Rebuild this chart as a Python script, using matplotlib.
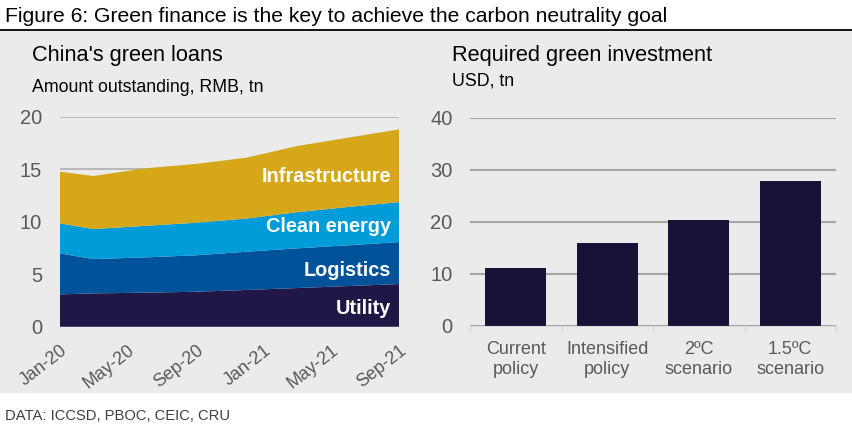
import matplotlib.pyplot as plt
import matplotlib.dates as mdates
import pandas as pd
from matplotlib.patches import Rectangle
from matplotlib.lines import Line2D

plt.rcParams['font.family'] = ['Liberation Sans', 'DejaVu Sans']

# left panel: green loans, RMB tn (stacked)
dates = ["2020-01", "2020-03", "2020-06", "2020-09", "2020-12", "2021-03", "2021-06", "2021-09"]
utility        = [3.08, 3.17, 3.24, 3.33, 3.50, 3.68, 3.87, 4.06]
logistics      = [3.90, 3.27, 3.36, 3.47, 3.64, 3.78, 3.88, 4.00]
clean_energy   = [2.86, 2.86, 3.00, 3.10, 3.16, 3.44, 3.65, 3.81]
infrastructure = [4.92, 5.05, 5.48, 5.60, 5.80, 6.30, 6.60, 6.93]
series_names = ["Utility", "Logistics", "Clean energy", "Infrastructure"]
tick_dates = ["2020-01", "2020-05", "2020-09", "2021-01", "2021-05", "2021-09"]

# right panel: required green investment, USD tn
scenarios = ["Current\npolicy", "Intensified\npolicy", "2ºC\nscenario", "1.5ºC\nscenario"]
investment = [11.1, 16.0, 20.3, 27.8]

colors = ["#201747", "#00539b", "#009bd9", "#d5a719"]
bar_color = "#1a1236"
bg = "#ebebeb"
tick_col = "#595959"

W, H = 852, 424
fig = plt.figure(figsize=(W / 100, H / 100), dpi=100)

def fx(px):
    return px / W

def fy(py):
    return 1 - py / H

fig.patches.append(Rectangle((0, fy(392)), 1, fy(31) - fy(392),
                             transform=fig.transFigure, color=bg, zorder=-5))
fig.lines.append(Line2D([0, 1], [fy(29.5), fy(29.5)], transform=fig.transFigure,
                        color="black", lw=1.3))

fig.text(fx(5), fy(17), "Figure 6: Green finance is the key to achieve the carbon neutrality goal",
         fontsize=15.2, va="center", ha="left", color="black")
fig.text(fx(32), fy(55), "China's green loans", fontsize=15.7, va="center")
fig.text(fx(32), fy(87), "Amount outstanding, RMB, tn", fontsize=12.8, va="center")
fig.text(fx(452), fy(56), "Required green investment", fontsize=15.7, va="center")
fig.text(fx(452), fy(81), "USD, tn", fontsize=12.8, va="center")
fig.text(fx(5), fy(416), "DATA: ICCSD, PBOC, CEIC, CRU", fontsize=10.6, va="center",
         color="#404040")

# ---- left: stacked area
ax1 = fig.add_axes([fx(60), fy(326.7), fx(399.3 - 60), fy(116.7) - fy(326.7)])
ax1.set_facecolor("none")
x = pd.to_datetime(dates)
ax1.stackplot(x, utility, logistics, clean_energy, infrastructure,
              colors=colors, lw=0, zorder=2)
ax1.set_xlim(x[0], x[-1])
ax1.set_ylim(0, 20)
ax1.set_yticks([0, 5, 10, 15, 20])
ax1.set_xticks(pd.to_datetime(tick_dates))
ax1.xaxis.set_major_formatter(mdates.DateFormatter("%b-%y"))
ax1.grid(axis="y", color="#b0b0b0", lw=1.2, zorder=1)
ax1.set_axisbelow(True)
for s in ax1.spines.values():
    s.set_visible(False)
ax1.tick_params(axis="y", length=0, labelsize=14.5, labelcolor=tick_col, pad=13)
ax1.tick_params(axis="x", length=0, labelsize=13, labelcolor=tick_col, pad=11)
for lab in ax1.get_xticklabels():
    lab.set_rotation(38)
    lab.set_ha("right")
    lab.set_rotation_mode("anchor")

label_y = [308, 270, 227, 176]
for name, py in zip(series_names, label_y):
    fig.text(fx(391), fy(py), name, fontsize=14.3, fontweight="bold", color="white",
             ha="right", va="center")

# ---- right: bars
ax2 = fig.add_axes([fx(470), fy(325.7), fx(836 - 470), fy(117.7) - fy(325.7)])
ax2.set_facecolor("none")
ax2.bar(range(len(scenarios)), investment, width=0.67, color=bar_color, zorder=2)
ax2.set_xlim(-0.5, len(scenarios) - 0.5)
ax2.set_ylim(0, 40)
ax2.set_yticks([0, 10, 20, 30, 40])
ax2.set_xticks(range(len(scenarios)))
ax2.set_xticklabels(scenarios)
ax2.set_xticks([i - 0.5 for i in range(len(scenarios) + 1)], minor=True)
ax2.grid(axis="y", color="#a6a6a6", lw=1.5, zorder=1)
ax2.set_axisbelow(True)
for s in ax2.spines.values():
    s.set_visible(False)
ax2.spines["bottom"].set_visible(True)
ax2.spines["bottom"].set_color("#d9d9d9")
ax2.tick_params(axis="y", length=0, labelsize=14.5, labelcolor=tick_col, pad=12.5)
ax2.tick_params(axis="x", which="major", length=0, labelsize=13, labelcolor=tick_col, pad=11)
ax2.tick_params(axis="x", which="minor", length=4, color="#d9d9d9", width=1)

fig.savefig("out.png", dpi=100)
